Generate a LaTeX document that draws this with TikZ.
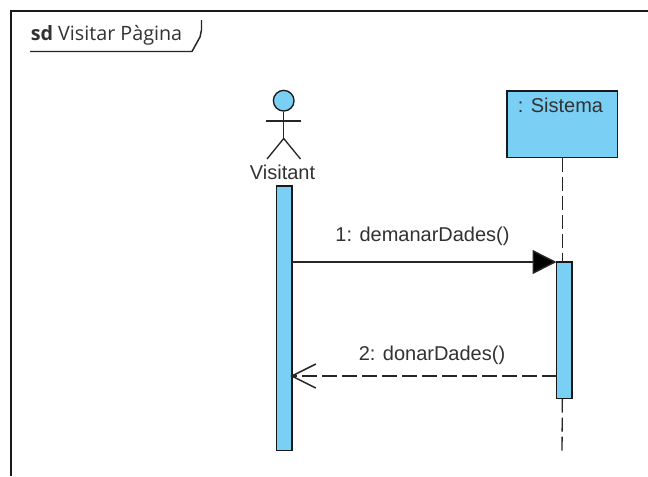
\documentclass[tikz,border=0pt]{standalone}
\usepackage{fontspec}
\setmainfont{Liberation Sans}
\newfontfamily\frameFont{Open Sans}
\usetikzlibrary{arrows.meta,calc}
\definecolor{lifeblue}{RGB}{122,207,245}
\definecolor{inkgrey}{RGB}{50,50,50}
\tikzset{
  x=0.75pt,y=-0.75pt,
  lane/.style={draw=black!90,fill=lifeblue,line width=1.2pt},
  lifeline/.style={draw=black!85,line width=1pt,dash pattern=on 10.5pt off 3.75pt},
  msg/.style={font=\fontsize{15}{18}\selectfont,text=inkgrey,inner sep=0pt},
  stick/.style={draw=black!85,line width=1pt}
}
\begin{document}
\begin{tikzpicture}
\useasboundingbox (0,0) rectangle (648,476);
\fill[white] (0,0) rectangle (648,476);
% frame
\draw[line width=1.6pt,black!90] (11.3,476) -- (11.3,11.3) -- (648,11.3);
\coordinate (tagA) at (30,51.5);
\coordinate (tagB) at (192,51.5);
\coordinate (tagC) at (200,37);
\coordinate (tagD) at (201.5,30);
\coordinate (tagE) at (201.5,20);
\draw[line width=1.1pt,black!85] (tagA) -- (tagB) -- (tagC) -- (tagD) -- (tagE);
\node[anchor=base west,inner sep=0pt,font=\frameFont\fontsize{14.8}{18}\selectfont,text=inkgrey] (title) at (30.5,40.5) {\textbf{sd} Visitar Pàgina};
% actor
\node[circle,draw=black!90,fill=lifeblue,line width=1pt,minimum size=15.5pt,inner sep=0pt] (head) at (283.7,100.7) {};
\coordinate (hip) at (283.7,138.5);
\coordinate (armL) at (266,121);
\coordinate (armR) at (301,121);
\coordinate (footL) at (267,159);
\coordinate (footR) at (300.5,159);
\draw[stick] (head.south) -- (hip);
\draw[stick] (armL) -- (armR);
\draw[stick] (footL) -- (hip) -- (footR);
\node[anchor=base,msg] (visitant) at (282.5,179.5) {Visitant};
% activations
\node[lane,anchor=north west,minimum width=11.5pt,minimum height=198.5pt,inner sep=0pt,outer sep=0pt] (barA) at (276.5,186) {};
\node[lane,anchor=north west,minimum width=11.5pt,minimum height=102.5pt,inner sep=0pt,outer sep=0pt] (barB) at (556.5,262) {};
% sistema
\node[lane,anchor=north west,minimum width=83pt,minimum height=50pt,inner sep=0pt,outer sep=0pt] (sys) at (507,91) {};
\node[anchor=base,msg] (syslabel) at (560.5,112.5) {: Sistema};
\coordinate (lifeEnd) at (562,453);
\draw[lifeline] (sys.south) -- (sys.south |- barB.north);
\draw[lifeline] (sys.south |- barB.south) -- (lifeEnd);
% messages
\coordinate (m1s) at (barA.east |- 0,262);
\coordinate (m1e) at (barB.west |- 0,262);
\coordinate (m2s) at (barB.west |- 0,376);
\coordinate (m2e) at (barA.east |- 0,376);
\draw[line width=1.1pt,black!85,-{Triangle[length=18pt,width=18pt,fill=black]}] (m1s) -- (m1e);
\draw[line width=1.1pt,black!85,dash pattern=on 11.25pt off 3.75pt] (m2s) -- (m2e);
\draw[line width=1.1pt,black!85] ($(m2e)+(24,-12)$) -- (m2e) -- ($(m2e)+(24,12)$);
\node[anchor=base,msg] (l1) at (422.5,241.5) {1: demanarDades()};
\node[anchor=base,msg] (l2) at (432,360) {2: donarDades()};
\end{tikzpicture}
\end{document}
